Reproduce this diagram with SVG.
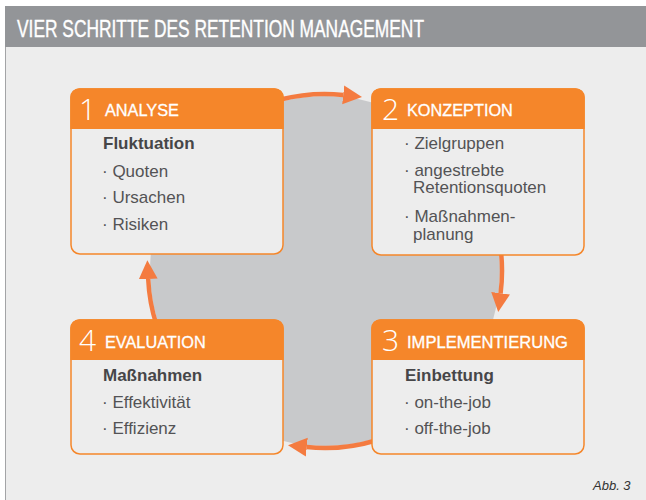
<svg xmlns="http://www.w3.org/2000/svg" width="646" height="500" viewBox="0 0 646 500">
  <style>
    .title { font-family: "Liberation Sans", Arial, sans-serif; font-size: 24px; fill: #ffffff; stroke: #ffffff; stroke-width: 0.4; }
    .box { fill: #ededed; stroke: #f5862a; stroke-width: 1.5; }
    .head { fill: #f5862a; }
    .num { font-family: "Open Sans", "Liberation Sans", sans-serif; font-weight: 300; font-size: 30px; fill: #ffffff; }
    .label { font-family: "Liberation Sans", Arial, sans-serif; font-size: 16.3px; fill: #ffffff; stroke: #ffffff; stroke-width: 0.3; }
    .bold { font-family: "Liberation Sans", Arial, sans-serif; font-size: 17px; font-weight: bold; fill: #464648; }
    .item { font-family: "Liberation Sans", Arial, sans-serif; font-size: 17px; fill: #535355; }
    .flow { fill: none; stroke: #f47b40; stroke-width: 4.5; marker-end: url(#tip); }
    .caption { font-family: "Liberation Sans", Arial, sans-serif; font-size: 13px; font-style: italic; fill: #333333; }
  </style>
  <defs>
    <marker id="tip" markerUnits="userSpaceOnUse" markerWidth="20" markerHeight="20" viewBox="0 -9 18 18" refX="0" refY="0" orient="auto">
      <path d="M0,-8.5 L17,0 L0,8.5 Z" fill="#f47b40"/>
    </marker>
  </defs>

  <!-- page frame -->
  <rect x="0" y="0" width="646" height="500" fill="#ffffff"/>
  <rect x="5" y="47" width="641" height="453" fill="#ededed"/>
  <line x1="5.5" y1="47" x2="5.5" y2="500" stroke="#a3a4a6" stroke-width="1"/>
  <rect x="5" y="6" width="641" height="41" fill="#939598"/>
  <text class="title" x="17" y="36.5" textLength="407" lengthAdjust="spacingAndGlyphs">VIER SCHRITTE DES RETENTION MANAGEMENT</text>

  <!-- cycle background -->
  <circle cx="325" cy="271" r="175" fill="#c8c9cb"/>

  <!-- connectors: arcs around the cycle -->
  <g id="connectors">
    <path class="flow" d="M280.5,99.5 A177,177 0 0 1 343.2,94.9"/>
    <path class="flow" d="M500.8,250 A177,177 0 0 1 500.6,293.2"/>
    <path class="flow" d="M375.9,440.5 A177,177 0 0 1 306.8,447.1"/>
    <path class="flow" d="M156.5,325.1 A177,177 0 0 1 148.2,279"/>
  </g>

  <!-- step 1 -->
  <g id="analyse">
    <rect class="box" x="71" y="89" width="212" height="165" rx="9"/>
    <path class="head" d="M70.25,129 V98 A9,9 0 0 1 80,88.25 H274 A9,9 0 0 1 283.75,98 V129 Z"/>
    <text class="num" x="79" y="120">1</text>
    <text class="label" x="105" y="116">ANALYSE</text>
    <text class="bold" x="103" y="149">Fluktuation</text>
    <text class="item" x="102" y="176.5">· Quoten</text>
    <text class="item" x="102" y="203">· Ursachen</text>
    <text class="item" x="102" y="229.5">· Risiken</text>
  </g>

  <!-- step 2 -->
  <g id="konzeption">
    <rect class="box" x="372" y="89" width="212" height="166" rx="9"/>
    <path class="head" d="M371.25,129 V98 A9,9 0 0 1 381,88.25 H575 A9,9 0 0 1 584.75,98 V129 Z"/>
    <text class="num" x="382" y="120">2</text>
    <text class="label" x="407" y="116">KONZEPTION</text>
    <text class="item" x="404" y="149">· Zielgruppen</text>
    <text class="item" x="404" y="176">· angestrebte</text>
    <text class="item" x="413" y="193">Retentionsquoten</text>
    <text class="item" x="404" y="221.5">· Maßnahmen-</text>
    <text class="item" x="413" y="239.5">planung</text>
  </g>

  <!-- step 3 -->
  <g id="implementierung">
    <rect class="box" x="372" y="320" width="212" height="134" rx="9"/>
    <path class="head" d="M371.25,360 V329 A9,9 0 0 1 381,319.25 H575 A9,9 0 0 1 584.75,329 V360 Z"/>
    <text class="num" x="382" y="351">3</text>
    <text class="label" x="407" y="348" textLength="161" lengthAdjust="spacingAndGlyphs">IMPLEMENTIERUNG</text>
    <text class="bold" x="405" y="381">Einbettung</text>
    <text class="item" x="404" y="407.5">· on-the-job</text>
    <text class="item" x="404" y="434">· off-the-job</text>
  </g>

  <!-- step 4 -->
  <g id="evaluation">
    <rect class="box" x="71" y="320" width="212" height="134" rx="9"/>
    <path class="head" d="M70.25,360 V329 A9,9 0 0 1 80,319.25 H274 A9,9 0 0 1 283.75,329 V360 Z"/>
    <text class="num" x="79" y="351">4</text>
    <text class="label" x="105" y="348">EVALUATION</text>
    <text class="bold" x="103" y="381">Maßnahmen</text>
    <text class="item" x="102" y="407.5">· Effektivität</text>
    <text class="item" x="102" y="434">· Effizienz</text>
  </g>

  <text class="caption" x="593" y="490">Abb. 3</text>
</svg>
